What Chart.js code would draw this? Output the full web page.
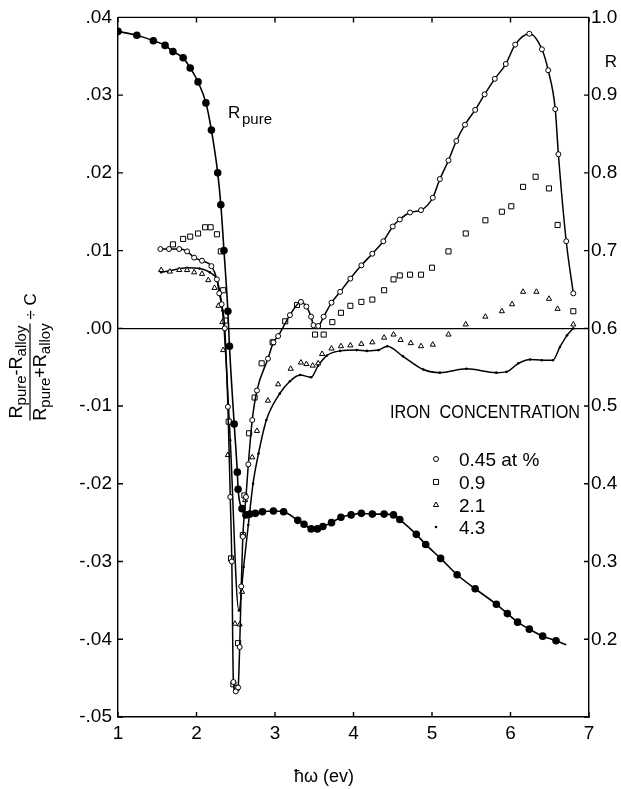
<!DOCTYPE html>
<html>
<head>
<meta charset="utf-8">
<script src="https://cdn.jsdelivr.net/npm/chart.js@4.4.1/dist/chart.umd.min.js"></script>
<style>
  html, body { margin: 0; padding: 0; background: #fff; }
  #wrap { width: 621px; height: 789px; }
</style>
</head>
<body>
<div id="wrap"><canvas id="chart" width="621" height="789"></canvas></div>
<script>
'use strict';

// photon energy (ev) and reflectivity of pure metal, right axis
let xPure = [1.00,1.24,1.45,1.60,1.70,1.83,1.92,2.02,2.12,2.19,2.27,2.31,2.35,2.40,2.42,2.48,2.52,2.53,2.58,2.63,2.68,2.75,2.84,2.98,3.11,3.29,3.37,3.46,3.54,3.61,3.72,3.84,3.97,4.10,4.24,4.39,4.51,4.59,4.80,4.92,5.11,5.32,5.55,5.82,5.96,6.09,6.24,6.41,6.58,6.71]
let rPure = [0.982,0.977,0.970,0.964,0.956,0.948,0.935,0.917,0.890,0.855,0.800,0.759,0.700,0.622,0.577,0.477,0.415,0.393,0.368,0.360,0.361,0.362,0.364,0.365,0.364,0.353,0.348,0.342,0.342,0.345,0.350,0.357,0.360,0.362,0.361,0.361,0.360,0.354,0.335,0.322,0.304,0.283,0.265,0.245,0.233,0.222,0.213,0.204,0.198,0.193]

// 0.45 at %
let x045 = [1.54,1.65,1.78,1.88,1.97,2.07,2.19,2.26,2.29,2.32,2.36,2.40,2.43,2.45,2.47,2.50,2.53,2.55,2.57,2.59,2.63,2.66,2.71,2.77,2.91,2.98,3.04,3.19,3.33,3.40,3.46,3.49,3.55,3.62,3.72,3.83,3.96,4.10,4.24,4.38,4.50,4.59,4.72,4.86,5.01,5.10,5.21,5.31,5.42,5.55,5.67,5.80,5.94,6.06,6.24,6.40,6.48,6.57,6.61,6.71,6.80]
let y045 = [0.0102,0.0102,0.0102,0.0099,0.0091,0.0087,0.0080,0.0063,0.0045,0.0031,0.0000,-0.0101,-0.0217,-0.0300,-0.0455,-0.0467,-0.0462,-0.0410,-0.0332,-0.0268,-0.0217,-0.0175,-0.0118,-0.0080,-0.0039,-0.0018,-0.0010,0.0017,0.0034,0.0028,0.0015,0.0004,0.0003,0.0015,0.0033,0.0047,0.0064,0.0081,0.0096,0.0112,0.0131,0.0140,0.0149,0.0152,0.0168,0.0192,0.0216,0.0241,0.0262,0.0281,0.0301,0.0321,0.0340,0.0365,0.0379,0.0359,0.0332,0.0282,0.0224,0.0112,0.0045]

// 0.9
let x09 = [1.70,1.83,1.92,2.02,2.11,2.18,2.26,2.31,2.34,2.37,2.41,2.44,2.47,2.51,2.53,2.59,2.61,2.67,2.74,2.83,2.97,3.13,3.28,3.51,3.62,3.73,3.84,3.96,4.10,4.24,4.39,4.51,4.59,4.72,4.86,5.00,5.21,5.43,5.68,5.89,6.01,6.16,6.32,6.49,6.60,6.80]
let y09 = [0.0108,0.0115,0.0118,0.0122,0.0130,0.0130,0.0121,0.0099,0.0049,0.0010,-0.0120,-0.0296,-0.0458,-0.0463,-0.0405,-0.0266,-0.0215,-0.0135,-0.0089,-0.0045,-0.0018,0.0009,0.0030,-0.0008,-0.0008,0.0008,0.0020,0.0029,0.0034,0.0037,0.0049,0.0063,0.0068,0.0069,0.0069,0.0078,0.0099,0.0122,0.0139,0.0150,0.0157,0.0182,0.0195,0.0180,0.0133,0.0022]

// 2.1
let x21 = [1.55,1.66,1.78,1.88,1.97,2.07,2.15,2.23,2.28,2.33,2.34,2.40,2.49,2.55,2.58,2.62,2.71,2.77,2.91,3.04,3.20,3.33,3.40,3.48,3.55,3.60,3.72,3.84,3.96,4.10,4.24,4.39,4.51,4.60,4.73,4.86,5.01,5.21,5.43,5.68,5.89,6.02,6.16,6.33,6.49,6.60,6.80]
let y21 = [0.0075,0.0073,0.0075,0.0075,0.0072,0.0070,0.0062,0.0052,0.0029,0.0008,-0.0028,-0.0163,-0.0380,-0.0381,-0.0339,-0.0221,-0.0166,-0.0132,-0.0093,-0.0072,-0.0052,-0.0044,-0.0046,-0.0048,-0.0045,-0.0033,-0.0026,-0.0023,-0.0022,-0.0020,-0.0018,-0.0012,-0.0008,-0.0015,-0.0019,-0.0023,-0.0021,-0.0008,0.0005,0.0015,0.0022,0.0031,0.0047,0.0047,0.0038,0.0025,0.0005]

// 4.3
let x43 = [1.55,1.66,1.88,2.04,2.17,2.26,2.30,2.33,2.35,2.43,2.54,2.60,2.66,2.72,2.79,2.89,3.06,3.19,3.32,3.46,3.55,3.66,3.83,4.04,4.17,4.32,4.43,4.63,4.89,5.10,5.44,5.82,5.95,6.10,6.25,6.40,6.54,6.63,6.72,6.80]
let y43 = [0.0072,0.0074,0.0078,0.0077,0.0072,0.0062,0.0045,0.0023,0.0002,-0.0144,-0.0363,-0.0307,-0.0253,-0.0200,-0.0161,-0.0118,-0.0084,-0.0068,-0.0060,-0.0063,-0.0048,-0.0035,-0.0029,-0.0028,-0.0029,-0.0028,-0.0023,-0.0036,-0.0053,-0.0057,-0.0052,-0.0057,-0.0056,-0.0045,-0.0040,-0.0041,-0.0041,-0.0024,-0.0009,0.0000]

let legendLabels = ['0.45 at %', '0.9', '2.1', '4.3']

function pts(xs, ys) {
    return xs.map((v, i) => ({x: v, y: ys[i]}))
}

const FONT = "'Liberation Sans', Arial, sans-serif"

// frame, inward ticks, texts
const decorations = {
    id: 'decorations',
    afterDraw(chart) {
        const ctx = chart.ctx
        const a = chart.chartArea
        const sx = chart.scales.x, sy = chart.scales.y, sr = chart.scales.yR
        ctx.save()
        ctx.strokeStyle = '#000'
        ctx.lineWidth = 1.4
        ctx.beginPath()
        ctx.moveTo(a.left, a.top); ctx.lineTo(a.right, a.top)
        sx.ticks.forEach(t => {
            const p = sx.getPixelForValue(t.value)
            ctx.moveTo(p, a.bottom); ctx.lineTo(p, a.bottom - 5)
            ctx.moveTo(p, a.top); ctx.lineTo(p, a.top + 5)
        })
        sy.ticks.forEach(t => {
            const p = sy.getPixelForValue(t.value)
            ctx.moveTo(a.left, p); ctx.lineTo(a.left + 5, p)
        })
        sr.ticks.forEach(t => {
            const p = sr.getPixelForValue(t.value)
            ctx.moveTo(a.right, p); ctx.lineTo(a.right - 5, p)
        })
        ctx.stroke()

        ctx.fillStyle = '#000'
        ctx.textBaseline = 'alphabetic'
        ctx.textAlign = 'left'

        // R pure label
        ctx.font = '17px ' + FONT
        ctx.fillText('R', 228, 118)
        ctx.font = '15px ' + FONT
        ctx.fillText('pure', 242, 124)

        // right axis title
        ctx.font = '17px ' + FONT
        ctx.textAlign = 'center'
        ctx.fillText('R', 611, 67)

        // x axis title
        ctx.font = '18px ' + FONT
        ctx.fillText('\u0127\u03c9 (ev)', 324, 782)

        // legend
        ctx.textAlign = 'left'
        ctx.font = '18px ' + FONT
        const head = 'IRON  CONCENTRATION'
        const w = ctx.measureText(head).width
        ctx.save()
        ctx.translate(390, 418)
        ctx.scale(190 / w, 1)
        ctx.fillText(head, 0, 0)
        ctx.restore()

        ctx.font = '19px ' + FONT
        const rows = [459, 482, 505, 527]
        chart.data.datasets.slice(1).forEach((ds, i) => {
            ctx.fillStyle = '#000'
            ctx.fillText(legendLabels[i], 459, rows[i] + 7)
            ctx.save()
            ctx.fillStyle = ds.pointBackgroundColor
            ctx.strokeStyle = '#000'
            ctx.lineWidth = 1
            Chart.helpers.drawPoint(ctx, {
                pointStyle: ds.pointStyle,
                radius: ds.pointRadius,
                borderWidth: ds.pointBorderWidth
            }, 436, rows[i])
            ctx.restore()
        })

        // left axis title: fraction, rotated
        ctx.fillStyle = '#000'
        ctx.save()
        ctx.translate(30, 372)
        ctx.rotate(-Math.PI / 2)
        const parts = (main, sub, y) => {
            let segs = []
            main.forEach((m, i) => { segs.push([m, false]); segs.push([sub[i], true]) })
            let tot = 0
            segs.forEach(s => { ctx.font = (s[1] ? '15px ' : '18px ') + FONT; tot += ctx.measureText(s[0]).width })
            let x0 = -tot / 2
            segs.forEach(s => {
                ctx.font = (s[1] ? '15px ' : '18px ') + FONT
                ctx.fillText(s[0], x0, y + (s[1] ? 4 : 0))
                x0 += ctx.measureText(s[0]).width
            })
            return tot
        }
        ctx.textAlign = 'left'
        const wn = parts(['R', '-R'], ['pure', 'alloy'], -8)
        parts(['R', '+R'], ['pure', 'alloy'], 16)
        ctx.lineWidth = 1.2
        ctx.beginPath()
        ctx.moveTo(-wn / 2 - 2, 0); ctx.lineTo(wn / 2 + 2, 0)
        ctx.stroke()
        ctx.font = '17px ' + FONT
        ctx.fillText('\u00f7 C', wn / 2 + 6, 6)
        ctx.restore()

        ctx.restore()
    }
}

const ctx = document.getElementById('chart').getContext('2d')
Chart.defaults.font.family = FONT
Chart.defaults.color = '#000'

new Chart(ctx, {
    type: 'scatter',
    data: {
        datasets: [
            {
                label: 'R pure',
                data: pts(xPure, rPure),
                yAxisID: 'yR',
                showLine: true,
                borderColor: '#000',
                borderWidth: 1.6,
                backgroundColor: '#000',
                pointStyle: 'circle',
                pointRadius: xPure.map((v, i) => i === xPure.length - 1 ? 0 : 3),
                cubicInterpolationMode: 'monotone',
                order: 1
            },
            {
                label: legendLabels[0],
                data: pts(x045, y045),
                yAxisID: 'y',
                showLine: true,
                borderColor: '#000',
                borderWidth: 1.5,
                pointBackgroundColor: '#fff',
                pointBorderColor: '#000',
                pointBorderWidth: 1,
                pointStyle: 'circle',
                pointRadius: 2.5,
                cubicInterpolationMode: 'monotone',
                order: 2
            },
            {
                label: legendLabels[1],
                data: pts(x09, y09),
                yAxisID: 'y',
                showLine: false,
                pointBackgroundColor: '#fff',
                pointBorderColor: '#000',
                pointBorderWidth: 1,
                pointStyle: 'rect',
                pointRadius: 3.6,
                order: 3
            },
            {
                label: legendLabels[2],
                data: pts(x21, y21),
                yAxisID: 'y',
                showLine: false,
                pointBackgroundColor: '#fff',
                pointBorderColor: '#000',
                pointBorderWidth: 1,
                pointStyle: 'triangle',
                pointRadius: 3,
                order: 4
            },
            {
                label: legendLabels[3],
                data: pts(x43, y43),
                yAxisID: 'y',
                showLine: true,
                borderColor: '#000',
                borderWidth: 1.5,
                pointBackgroundColor: '#000',
                pointBorderColor: '#000',
                pointBorderWidth: 0,
                pointStyle: 'circle',
                pointRadius: 1.3,
                cubicInterpolationMode: 'monotone',
                order: 5
            }
        ]
    },
    options: {
        responsive: false,
        animation: false,
        layout: { padding: { top: 17, left: 0, right: 0, bottom: 0 } },
        plugins: {
            legend: { display: false },
            tooltip: { enabled: false }
        },
        scales: {
            x: {
                type: 'linear',
                position: 'bottom',
                min: 1,
                max: 7,
                afterFit: s => { s.height = 72 },
                ticks: { stepSize: 1, padding: 5, font: { size: 19 }, color: '#000' },
                grid: { drawOnChartArea: false, drawTicks: false },
                border: { display: true, color: '#000', width: 1.4 }
            },
            y: {
                type: 'linear',
                position: 'left',
                min: -0.05,
                max: 0.04,
                afterFit: s => { s.width = 118 },
                ticks: {
                    stepSize: 0.01,
                    padding: 6,
                    font: { size: 19 },
                    color: '#000',
                    callback: v => v.toFixed(2).replace('0.', '.')
                },
                grid: {
                    drawTicks: false,
                    color: c => (c.tick && Math.abs(c.tick.value) < 1e-9) ? '#000' : 'rgba(0,0,0,0)',
                    lineWidth: 1.3
                },
                border: { display: true, color: '#000', width: 1.4 }
            },
            yR: {
                type: 'linear',
                position: 'right',
                min: 0.1,
                max: 1.0,
                afterFit: s => { s.width = 32 },
                ticks: {
                    stepSize: 0.1,
                    padding: 2,
                    font: { size: 19 },
                    color: '#000',
                    callback: v => v < 0.15 ? '' : v.toFixed(1)
                },
                grid: { drawOnChartArea: false, drawTicks: false },
                border: { display: true, color: '#000', width: 1.4 }
            }
        }
    },
    plugins: [decorations]
})
</script>
</body>
</html>
